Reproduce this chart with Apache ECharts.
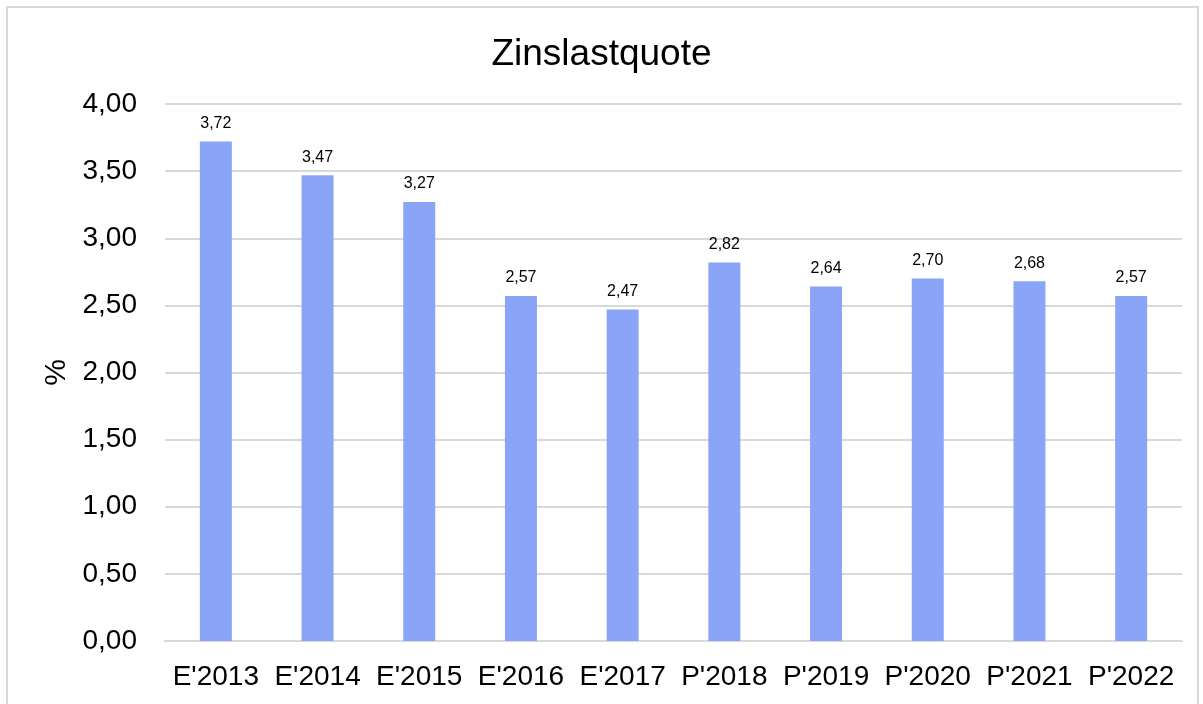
<!DOCTYPE html>
<html>
<head>
<meta charset="utf-8">
<script src="https://cdn.jsdelivr.net/npm/echarts@6/dist/echarts.min.js"></script>
<style>
  html, body { margin: 0; padding: 0; background: #fff; }
  #frame { position: absolute; left: 6px; top: 6px; width: 1189px; height: 720px; border: 2px solid #d9d9d9; }
  #chart { position: absolute; left: 0; top: 0; width: 1203px; height: 704px; }
</style>
</head>
<body>
<div id="frame"></div>
<div id="chart"></div>
<script>
const categories = ["E'2013", "E'2014", "E'2015", "E'2016", "E'2017", "P'2018", "P'2019", "P'2020", "P'2021", "P'2022"];
const values = [3.72, 3.47, 3.27, 2.57, 2.47, 2.82, 2.64, 2.70, 2.68, 2.57];

const fmt = v => v.toFixed(2).replace('.', ',');

const chart = echarts.init(document.getElementById('chart'));
chart.setOption({
  animation: false,
  textStyle: { fontFamily: 'Liberation Sans, Arial, sans-serif' },
  title: {
    text: 'Zinslastquote',
    left: 'center',
    top: 31,
    textStyle: { fontSize: 37, fontWeight: 'normal', color: '#000' }
  },
  grid: { left: 165, right: 21, top: 104, bottom: 63 },
  xAxis: {
    type: 'category',
    data: categories,
    axisLine: { lineStyle: { color: '#d9d9d9', width: 2 } },
    axisTick: { show: false },
    axisLabel: { color: '#000', fontSize: 28, margin: 22, interval: 0, hideOverlap: false }
  },
  yAxis: {
    type: 'value',
    min: 0,
    max: 4,
    interval: 0.5,
    name: '%',
    nameLocation: 'middle',
    nameGap: 92,
    nameTextStyle: { fontSize: 30, color: '#000' },
    axisLine: { show: false },
    axisTick: { show: false },
    axisLabel: { color: '#000', fontSize: 28, margin: 28, formatter: v => fmt(v) },
    splitLine: { lineStyle: { color: '#d9d9d9', width: 2 } }
  },
  series: [{
    type: 'bar',
    data: values,
    barWidth: 32,
    itemStyle: { color: '#8AA4F8' },
    label: {
      show: true,
      position: 'top',
      distance: 10,
      fontSize: 16,
      color: '#000',
      formatter: p => fmt(p.value)
    }
  }]
});
</script>
</body>
</html>
